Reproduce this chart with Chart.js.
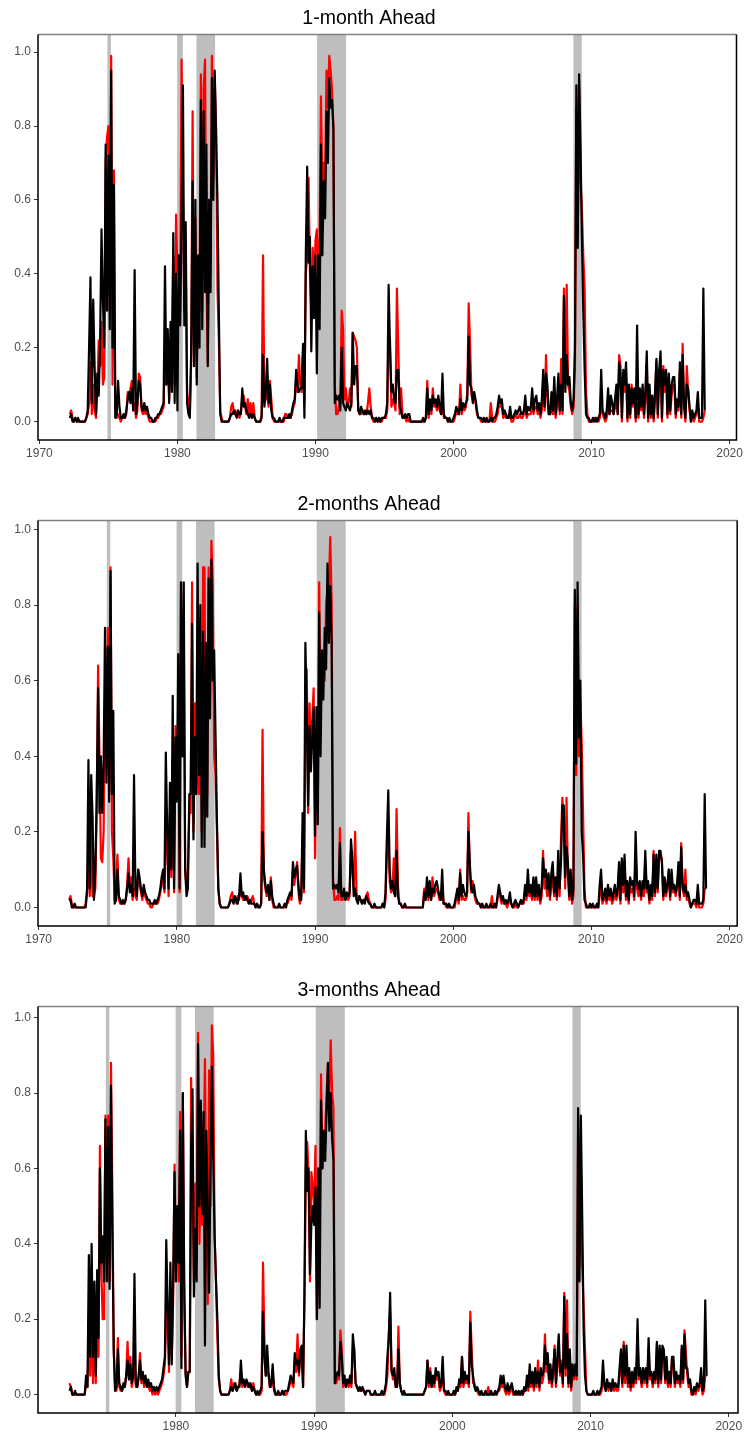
<!DOCTYPE html>
<html>
<head>
<meta charset="utf-8">
<title>Recession probabilities</title>
<script src="https://cdn.jsdelivr.net/npm/chart.js@4.4.1/dist/chart.umd.min.js"></script>
<style>
  html, body { margin: 0; padding: 0; background: #fff; overflow: hidden; }
  canvas { display: block; }
</style>
</head>
<body>
<canvas id="chart-1m" width="745" height="486"></canvas>
<canvas id="chart-2m" width="745" height="486"></canvas>
<canvas id="chart-3m" width="745" height="463"></canvas>
<script>
// Regular time index: one value every 0.1 year, from 1972.2 to 2018.4
var startYear = 1972.2;
var stepYears = 0.1;

// Shaded recession periods (decimal years)
var recessionStart = [1974.93, 1979.98, 1981.38, 1990.12, 2008.69];
var recessionEnd   = [1975.18, 1980.39, 1982.73, 1992.22, 2009.29];

var xTicks = [1970, 1980, 1990, 2000, 2010, 2020];
var yTicks = [0, 0.2, 0.4, 0.6, 0.8, 1.0];

// 1-month ahead, black series (one row per year)
var p1Black = [
  .01,.02,.00,.00,.01,.00,.01,.00, // 1972
  .00,.00,.00,.00,.01,.03,.20,.39,.05,.33, // 1973
  .15,.02,.13,.07,.22,.52,.33,.20,.75,.30, // 1974
  .72,.25,.95,.20,.64,.01,.02,.11,.04,.01, // 1975
  .01,.02,.01,.03,.06,.08,.05,.09,.03,.41, // 1976
  .02,.05,.11,.10,.04,.03,.05,.03,.04,.02, // 1977
  .01,.01,.00,.00,.01,.01,.02,.02,.03,.04, // 1978
  .05,.42,.10,.25,.05,.27,.08,.51,.05,.40, // 1979
  .03,.45,.26,.54,.91,.26,.54,.05,.02,.01, // 1980
  .20,.65,.15,.60,.10,.45,.20,.87,.25,.84, // 1981
  .35,.75,.15,.60,.35,.93,.60,.95,.78,.60, // 1982
  .30,.02,.00,.00,.00,.00,.00,.00,.01,.02, // 1983
  .02,.03,.02,.01,.03,.02,.02,.09,.04,.05, // 1984
  .03,.02,.01,.02,.01,.02,.01,.00,.00,.00, // 1985
  .00,.01,.18,.04,.08,.17,.05,.10,.03,.01, // 1986
  .01,.00,.00,.00,.01,.00,.00,.01,.01,.01, // 1987
  .01,.02,.01,.03,.05,.06,.14,.10,.08,.09, // 1988
  .09,.21,.01,.45,.69,.43,.50,.19,.42,.28, // 1989
  .45,.13,.45,.25,.75,.45,.65,.55,.84,.70, // 1990
  .93,.85,.87,.79,.05,.07,.06,.07,.03,.20, // 1991
  .05,.04,.03,.05,.04,.03,.05,.24,.10,.15, // 1992
  .15,.03,.02,.04,.03,.02,.03,.02,.03,.02, // 1993
  .03,.01,.01,.00,.01,.00,.01,.00,.01,.01, // 1994
  .01,.02,.05,.37,.20,.08,.10,.06,.05,.14, // 1995
  .14,.04,.03,.01,.01,.02,.01,.02,.02,.00, // 1996
  .00,.00,.00,.00,.00,.00,.00,.00,.01,.00, // 1997
  .01,.09,.02,.06,.03,.07,.05,.06,.04,.07, // 1998
  .04,.02,.13,.02,.01,.01,.00,.01,.00,.00, // 1999
  .01,.02,.04,.03,.02,.06,.03,.05,.04,.05, // 2000
  .06,.23,.10,.09,.05,.08,.06,.03,.01,.01, // 2001
  .01,.00,.01,.00,.01,.00,.00,.01,.00,.01, // 2002
  .01,.02,.04,.07,.05,.06,.02,.03,.02,.01, // 2003
  .01,.04,.01,.01,.02,.03,.02,.03,.04,.02, // 2004
  .02,.03,.07,.02,.04,.03,.04,.09,.03,.06, // 2005
  .07,.03,.05,.02,.06,.14,.04,.13,.10,.02, // 2006
  .02,.08,.03,.12,.02,.06,.13,.03,.10,.03, // 2007
  .34,.08,.18,.10,.12,.05,.03,.06,.20,.91, // 2008
  .47,.94,.75,.50,.30,.14,.02,.01,.01,.00, // 2009
  .00,.01,.00,.01,.00,.01,.02,.14,.03,.02, // 2010
  .01,.03,.09,.02,.07,.05,.02,.06,.10,.02, // 2011
  .16,.12,.01,.14,.10,.16,.01,.10,.02,.09, // 2012
  .05,.09,.01,.26,.02,.09,.04,.10,.02,.08, // 2013
  .19,.01,.10,.02,.07,.01,.08,.17,.02,.14, // 2014
  .19,.01,.14,.10,.14,.02,.13,.03,.10,.12, // 2015
  .12,.02,.06,.04,.16,.02,.18,.05,.01,.10, // 2016
  .09,.04,.00,.03,.01,.02,.03,.08,.01,.01, // 2017
  .01,.36,.03,null,null // 2018
];

// 1-month ahead, red series
var p1Red = [
  .02,.03,.01,.00,.01,.00,.00,.00, // 1972
  .00,.00,.00,.00,.01,.02,.05,.16,.02,.10, // 1973
  .03,.01,.08,.22,.15,.27,.10,.12,.70,.77, // 1974
  .80,.30,.99,.10,.68,.03,.01,.02,.01,.00, // 1975
  .01,.01,.01,.02,.08,.06,.09,.11,.03,.05, // 1976
  .01,.03,.13,.12,.03,.02,.03,.02,.03,.01, // 1977
  .00,.00,.00,.00,.00,.01,.01,.02,.02,.03, // 1978
  .04,.20,.10,.20,.06,.18,.22,.45,.10,.56, // 1979
  .40,.45,.30,.98,.60,.30,.45,.08,.05,.02, // 1980
  .17,.84,.20,.55,.12,.44,.30,.94,.30,.90, // 1981
  .98,.40,.16,.60,.40,.99,.65,.93,.80,.36, // 1982
  .22,.03,.01,.00,.00,.00,.00,.00,.01,.04, // 1983
  .05,.02,.03,.02,.02,.01,.03,.06,.07,.04, // 1984
  .02,.06,.02,.05,.01,.05,.01,.00,.00,.00, // 1985
  .00,.02,.45,.05,.06,.12,.04,.11,.06,.01, // 1986
  .00,.00,.00,.00,.00,.00,.00,.00,.02,.02, // 1987
  .01,.01,.01,.02,.04,.05,.12,.08,.18,.10, // 1988
  .08,.19,.05,.40,.45,.66,.40,.30,.47,.35, // 1989
  .49,.52,.35,.50,.88,.60,.70,.65,.95,.85, // 1990
  .99,.95,.90,.80,.10,.02,.02,.04,.05,.30, // 1991
  .25,.06,.09,.04,.05,.09,.04,.24,.23,.22, // 1992
  .20,.03,.02,.02,.03,.02,.02,.02,.05,.09, // 1993
  .04,.01,.00,.00,.01,.00,.00,.00,.00,.01, // 1994
  .01,.01,.03,.25,.22,.04,.06,.05,.03,.36, // 1995
  .20,.02,.09,.02,.01,.01,.00,.01,.00,.00, // 1996
  .00,.00,.00,.00,.00,.00,.00,.00,.00,.00, // 1997
  .01,.11,.01,.05,.02,.09,.04,.05,.03,.05, // 1998
  .03,.02,.05,.01,.01,.01,.00,.00,.00,.00, // 1999
  .00,.01,.03,.02,.02,.10,.02,.04,.03,.04, // 2000
  .08,.32,.21,.07,.06,.07,.05,.02,.01,.01, // 2001
  .00,.00,.00,.00,.00,.00,.00,.05,.01,.00, // 2002
  .00,.01,.02,.05,.04,.04,.01,.02,.01,.01, // 2003
  .01,.02,.00,.00,.01,.02,.01,.01,.02,.01, // 2004
  .01,.02,.04,.01,.02,.02,.02,.05,.02,.04, // 2005
  .04,.02,.03,.01,.03,.12,.03,.18,.06,.02, // 2006
  .02,.04,.02,.08,.01,.04,.10,.02,.17,.02, // 2007
  .36,.10,.37,.10,.08,.04,.02,.04,.15,.85, // 2008
  .50,.90,.65,.58,.45,.36,.08,.02,.00,.00, // 2009
  .00,.00,.01,.00,.01,.00,.01,.05,.02,.01, // 2010
  .00,.01,.04,.02,.03,.03,.02,.04,.05,.02, // 2011
  .18,.15,.00,.13,.08,.14,.00,.08,.01,.10, // 2012
  .04,.08,.00,.05,.01,.07,.03,.08,.01,.06, // 2013
  .16,.00,.08,.01,.05,.00,.06,.16,.01,.12, // 2014
  .15,.00,.15,.08,.13,.01,.12,.02,.07,.10, // 2015
  .10,.01,.05,.03,.14,.01,.21,.04,.00,.15, // 2016
  .08,.03,.00,.02,.00,.01,.02,.04,.00,.00, // 2017
  .00,.01,.03,null,null // 2018
];

// 2-months ahead, black series
var p2Black = [
  .02,.02,.00,.00,.01,.00,.00,.00, // 1972
  .00,.00,.00,.00,.00,.04,.39,.05,.35,.24, // 1973
  .02,.10,.29,.58,.25,.40,.25,.38,.74,.33, // 1974
  .69,.28,.89,.30,.52,.01,.02,.10,.03,.02, // 1975
  .01,.02,.01,.02,.05,.09,.04,.06,.03,.35, // 1976
  .05,.03,.10,.08,.05,.03,.06,.04,.03,.02, // 1977
  .02,.01,.01,.01,.02,.01,.02,.03,.05,.08, // 1978
  .10,.05,.41,.21,.05,.33,.10,.56,.05,.45, // 1979
  .28,.67,.05,.86,.40,.86,.10,.03,.05,.30, // 1980
  .30,.75,.18,.45,.30,.91,.35,.80,.16,.73, // 1981
  .16,.70,.24,.87,.50,.92,.60,.68,.45,.23, // 1982
  .05,.01,.00,.00,.00,.00,.00,.00,.01,.02, // 1983
  .02,.01,.03,.02,.01,.03,.09,.03,.04,.02, // 1984
  .03,.02,.01,.02,.01,.01,.01,.00,.01,.00, // 1985
  .00,.01,.20,.10,.06,.04,.06,.02,.07,.03, // 1986
  .01,.00,.00,.00,.01,.00,.00,.00,.01,.00, // 1987
  .02,.03,.04,.03,.12,.08,.10,.11,.06,.02, // 1988
  .02,.25,.05,.70,.52,.27,.48,.36,.45,.53, // 1989
  .19,.53,.22,.78,.40,.68,.55,.74,.63,.91, // 1990
  .70,.85,.70,.05,.06,.05,.06,.04,.17,.03, // 1991
  .03,.05,.02,.04,.03,.04,.18,.13,.03,.05, // 1992
  .02,.01,.03,.02,.01,.02,.01,.03,.02,.01, // 1993
  .01,.00,.00,.01,.00,.00,.00,.00,.00,.01, // 1994
  .00,.04,.19,.31,.10,.05,.07,.04,.03,.15, // 1995
  .03,.01,.01,.00,.00,.01,.00,.00,.00,.00, // 1996
  .00,.00,.00,.00,.00,.00,.00,.00,.00,.04, // 1997
  .02,.08,.03,.07,.02,.05,.04,.06,.07,.05, // 1998
  .03,.02,.10,.01,.01,.01,.00,.01,.00,.00, // 1999
  .00,.01,.03,.05,.02,.09,.03,.06,.04,.03, // 2000
  .04,.20,.12,.05,.04,.06,.03,.02,.01,.01, // 2001
  .00,.01,.00,.00,.01,.00,.00,.01,.00,.00, // 2002
  .01,.00,.03,.06,.04,.02,.03,.01,.02,.01, // 2003
  .02,.04,.01,.00,.01,.02,.01,.00,.01,.02, // 2004
  .01,.02,.06,.03,.10,.04,.06,.03,.08,.03, // 2005
  .08,.03,.06,.02,.05,.13,.08,.10,.05,.09, // 2006
  .03,.09,.12,.04,.08,.03,.15,.05,.12,.27, // 2007
  .27,.08,.16,.12,.03,.10,.02,.05,.84,.38, // 2008
  .86,.45,.60,.20,.14,.02,.01,.00,.00,.01, // 2009
  .00,.01,.00,.00,.01,.00,.06,.10,.02,.03, // 2010
  .05,.02,.06,.03,.05,.02,.04,.06,.03,.05, // 2011
  .12,.02,.13,.06,.14,.03,.07,.02,.08,.06, // 2012
  .07,.03,.20,.07,.05,.07,.03,.07,.05,.15, // 2013
  .05,.07,.02,.06,.03,.14,.04,.14,.05,.15, // 2014
  .15,.12,.03,.08,.04,.06,.10,.03,.10,.05, // 2015
  .06,.04,.06,.12,.03,.16,.06,.04,.06,.03, // 2016
  .04,.02,.00,.01,.02,.02,.01,.06,.01,.01, // 2017
  .01,.02,.30,.05,null // 2018
];

// 2-months ahead, red series
var p2Red = [
  .02,.03,.01,.00,.00,.00,.00,.00, // 1972
  .00,.00,.00,.00,.01,.05,.10,.03,.19,.03, // 1973
  .03,.05,.27,.64,.40,.13,.12,.20,.55,.40, // 1974
  .74,.30,.90,.20,.13,.02,.05,.14,.02,.01, // 1975
  .01,.01,.01,.02,.06,.13,.05,.08,.02,.05, // 1976
  .03,.02,.10,.06,.04,.02,.05,.03,.02,.01, // 1977
  .01,.00,.00,.01,.01,.01,.01,.02,.04,.06, // 1978
  .08,.04,.20,.17,.03,.25,.08,.40,.04,.48, // 1979
  .30,.52,.04,.86,.40,.70,.10,.05,.10,.25, // 1980
  .25,.86,.20,.54,.30,.45,.30,.70,.20,.90, // 1981
  .90,.24,.30,.90,.55,.97,.85,.40,.35,.20, // 1982
  .05,.01,.00,.00,.00,.00,.00,.00,.01,.03, // 1983
  .04,.02,.02,.01,.03,.02,.05,.03,.02,.03, // 1984
  .02,.03,.02,.01,.02,.03,.01,.00,.01,.00, // 1985
  .00,.01,.47,.08,.05,.03,.04,.02,.08,.02, // 1986
  .00,.00,.00,.00,.00,.00,.00,.00,.00,.01, // 1987
  .01,.02,.03,.02,.10,.06,.09,.12,.04,.01, // 1988
  .03,.20,.04,.50,.63,.25,.54,.40,.50,.58, // 1989
  .13,.40,.25,.86,.50,.66,.60,.60,.80,.85, // 1990
  .85,.98,.81,.08,.02,.02,.03,.02,.21,.02, // 1991
  .02,.04,.02,.03,.02,.03,.15,.10,.05,.20, // 1992
  .04,.02,.03,.02,.01,.02,.02,.03,.04,.02, // 1993
  .01,.00,.00,.00,.00,.00,.00,.00,.00,.01, // 1994
  .00,.02,.15,.20,.07,.04,.05,.13,.03,.26, // 1995
  .06,.01,.01,.00,.00,.00,.00,.00,.00,.00, // 1996
  .00,.00,.00,.00,.00,.00,.00,.00,.00,.05, // 1997
  .02,.06,.02,.05,.02,.08,.03,.04,.05,.04, // 1998
  .02,.02,.06,.01,.01,.00,.00,.00,.00,.00, // 1999
  .00,.00,.02,.03,.01,.10,.02,.03,.02,.02, // 2000
  .03,.25,.10,.04,.07,.04,.02,.01,.01,.01, // 2001
  .00,.00,.00,.00,.00,.00,.00,.00,.03,.00, // 2002
  .00,.00,.02,.04,.03,.01,.02,.01,.01,.00, // 2003
  .01,.02,.01,.00,.00,.01,.00,.00,.01,.01, // 2004
  .01,.01,.04,.02,.06,.03,.04,.02,.05,.02, // 2005
  .05,.02,.04,.01,.03,.15,.05,.07,.03,.06, // 2006
  .02,.06,.08,.03,.05,.02,.10,.03,.18,.29, // 2007
  .20,.05,.29,.08,.02,.07,.01,.03,.80,.35, // 2008
  .80,.40,.55,.43,.24,.05,.00,.00,.00,.00, // 2009
  .00,.00,.00,.00,.00,.00,.03,.07,.01,.02, // 2010
  .03,.01,.04,.02,.03,.01,.02,.04,.02,.03, // 2011
  .10,.01,.12,.04,.12,.02,.05,.01,.06,.04, // 2012
  .05,.02,.15,.05,.03,.05,.02,.05,.03,.12, // 2013
  .04,.05,.01,.04,.02,.15,.03,.12,.04,.13, // 2014
  .13,.13,.02,.06,.03,.05,.10,.02,.08,.04, // 2015
  .05,.03,.05,.10,.02,.17,.05,.03,.10,.02, // 2016
  .03,.01,.00,.01,.01,.01,.00,.04,.00,.00, // 2017
  .00,.01,.05,.05,null // 2018
];

// 3-months ahead, black series
var p3Black = [
  null,.01,.02,.00,.00,.01,.00,.00, // 1972
  .00,.00,.00,.00,.00,.05,.02,.37,.10,.40, // 1973
  .10,.30,.05,.33,.15,.60,.35,.42,.30,.73, // 1974
  .30,.71,.28,.82,.43,.12,.01,.02,.12,.03, // 1975
  .02,.01,.03,.02,.05,.09,.04,.08,.03,.05, // 1976
  .32,.03,.02,.05,.09,.04,.06,.03,.05,.02, // 1977
  .04,.02,.03,.01,.02,.01,.02,.01,.02,.03, // 1978
  .04,.07,.10,.41,.24,.08,.35,.08,.30,.59, // 1979
  .30,.50,.35,.70,.07,.80,.30,.05,.02,.06, // 1980
  .06,.66,.81,.26,.44,.30,.93,.50,.78,.48, // 1981
  .75,.13,.70,.50,.27,.60,.87,.62,.42,.30, // 1982
  .20,.05,.01,.00,.00,.00,.00,.00,.00,.01, // 1983
  .02,.01,.02,.03,.01,.02,.02,.09,.03,.04, // 1984
  .02,.04,.03,.02,.03,.01,.02,.01,.00,.01, // 1985
  .00,.01,.02,.22,.10,.05,.13,.06,.02,.03, // 1986
  .08,.02,.00,.00,.01,.00,.00,.01,.00,.01, // 1987
  .01,.01,.03,.05,.04,.03,.11,.08,.09,.06, // 1988
  .12,.13,.02,.27,.70,.54,.60,.32,.45,.50, // 1989
  .45,.55,.20,.60,.23,.78,.60,.70,.62,.75, // 1990
  .88,.70,.80,.68,.62,.03,.05,.06,.05,.14, // 1991
  .10,.03,.05,.02,.04,.03,.05,.03,.16,.12, // 1992
  .03,.02,.01,.02,.01,.02,.01,.00,.01,.01, // 1993
  .01,.00,.00,.00,.01,.00,.00,.00,.00,.01, // 1994
  .00,.01,.03,.10,.15,.27,.06,.05,.07,.02, // 1995
  .02,.12,.03,.01,.00,.01,.00,.00,.00,.00, // 1996
  .00,.00,.00,.00,.00,.00,.00,.00,.00,.00, // 1997
  .01,.02,.09,.03,.06,.02,.05,.03,.07,.05, // 1998
  .06,.02,.03,.10,.01,.01,.00,.01,.00,.00, // 1999
  .00,.01,.00,.02,.01,.04,.03,.10,.03,.06, // 2000
  .04,.05,.03,.19,.08,.05,.02,.01,.02,.01, // 2001
  .00,.01,.00,.00,.01,.00,.00,.00,.01,.00, // 2002
  .00,.01,.00,.01,.02,.05,.03,.05,.02,.01, // 2003
  .03,.01,.02,.03,.01,.00,.01,.00,.01,.00, // 2004
  .01,.00,.02,.01,.05,.02,.08,.03,.06,.02, // 2005
  .07,.03,.06,.02,.07,.05,.06,.13,.08,.11, // 2006
  .04,.08,.03,.07,.12,.03,.10,.16,.06,.08, // 2007
  .03,.26,.07,.16,.03,.12,.02,.08,.05,.08, // 2008
  .05,.76,.30,.74,.47,.17,.05,.01,.00,.00, // 2009
  .00,.00,.01,.00,.00,.01,.00,.01,.02,.09, // 2010
  .03,.01,.04,.02,.03,.01,.04,.02,.03,.02, // 2011
  .02,.07,.12,.03,.13,.05,.13,.03,.07,.02, // 2012
  .06,.03,.07,.04,.20,.05,.07,.03,.07,.04, // 2013
  .07,.03,.15,.05,.06,.03,.06,.04,.14,.03, // 2014
  .13,.04,.13,.12,.04,.10,.03,.06,.03,.10, // 2015
  .10,.03,.06,.04,.05,.03,.13,.04,.16,.07, // 2016
  .07,.03,.04,.01,.00,.02,.01,.03,.02,.03, // 2017
  .07,.01,.02,.25,.05 // 2018
];

// 3-months ahead, red series
var p3Red = [
  null,.03,.02,.00,.00,.00,.00,.00, // 1972
  .00,.00,.00,.00,.00,.03,.02,.20,.05,.22, // 1973
  .03,.20,.03,.24,.10,.66,.33,.20,.20,.74, // 1974
  .40,.74,.30,.88,.54,.12,.01,.01,.15,.02, // 1975
  .01,.01,.02,.02,.05,.14,.04,.10,.02,.04, // 1976
  .10,.02,.02,.04,.11,.03,.05,.02,.04,.02, // 1977
  .03,.01,.02,.00,.01,.00,.01,.00,.01,.02, // 1978
  .03,.05,.08,.20,.24,.06,.30,.10,.25,.61, // 1979
  .35,.47,.30,.75,.10,.80,.25,.06,.02,.06, // 1980
  .06,.84,.55,.30,.56,.35,.96,.40,.60,.45, // 1981
  .60,.89,.50,.24,.86,.50,.98,.90,.42,.30, // 1982
  .15,.04,.01,.00,.00,.00,.00,.00,.00,.01, // 1983
  .04,.01,.03,.02,.01,.02,.03,.06,.02,.03, // 1984
  .03,.03,.02,.03,.02,.01,.03,.01,.00,.00, // 1985
  .00,.00,.01,.35,.15,.05,.06,.05,.02,.02, // 1986
  .06,.01,.00,.00,.00,.00,.00,.01,.00,.00, // 1987
  .00,.01,.02,.04,.03,.02,.10,.06,.16,.05, // 1988
  .10,.10,.02,.25,.60,.67,.58,.30,.59,.55, // 1989
  .50,.66,.20,.40,.40,.85,.60,.70,.70,.80, // 1990
  .88,.80,.94,.80,.76,.03,.03,.05,.04,.17, // 1991
  .12,.02,.04,.02,.03,.02,.04,.02,.12,.12, // 1992
  .03,.02,.01,.01,.01,.01,.01,.00,.01,.01, // 1993
  .01,.00,.00,.00,.00,.00,.00,.00,.00,.00, // 1994
  .00,.00,.02,.05,.16,.22,.07,.04,.05,.02, // 1995
  .02,.18,.03,.01,.00,.00,.00,.00,.00,.00, // 1996
  .00,.00,.00,.00,.00,.00,.00,.00,.00,.00, // 1997
  .01,.02,.09,.02,.07,.02,.04,.02,.06,.04, // 1998
  .04,.01,.02,.06,.01,.00,.00,.00,.00,.00, // 1999
  .00,.00,.00,.01,.01,.03,.02,.10,.02,.04, // 2000
  .03,.04,.02,.22,.12,.03,.03,.01,.01,.00, // 2001
  .00,.00,.00,.00,.00,.00,.02,.00,.00,.00, // 2002
  .00,.00,.00,.01,.01,.03,.02,.03,.01,.00, // 2003
  .02,.00,.01,.02,.00,.00,.00,.00,.00,.00, // 2004
  .00,.00,.01,.01,.03,.01,.05,.02,.04,.01, // 2005
  .05,.02,.09,.01,.05,.03,.05,.16,.06,.08, // 2006
  .03,.06,.02,.05,.13,.02,.08,.12,.05,.09, // 2007
  .02,.27,.05,.25,.02,.10,.01,.06,.04,.06, // 2008
  .04,.70,.34,.60,.34,.23,.12,.01,.00,.00, // 2009
  .00,.00,.00,.00,.00,.00,.00,.00,.01,.05, // 2010
  .02,.01,.03,.01,.02,.01,.03,.01,.02,.01, // 2011
  .01,.05,.11,.02,.14,.03,.10,.02,.05,.01, // 2012
  .04,.02,.05,.03,.16,.04,.05,.02,.05,.03, // 2013
  .05,.02,.12,.04,.05,.02,.05,.03,.13,.02, // 2014
  .12,.03,.12,.11,.03,.08,.02,.05,.02,.10, // 2015
  .08,.02,.05,.03,.04,.02,.12,.03,.17,.11, // 2016
  .05,.02,.03,.00,.00,.01,.00,.02,.01,.02, // 2017
  .05,.00,.01,.05,.05 // 2018
];

(function() {
    'use strict';

    var FONT = "'Liberation Sans', Arial, Helvetica, sans-serif";
    var nPoints = 463;

    [p1Black, p1Red, p2Black, p2Red, p3Black, p3Red].forEach(function(arr, k) {
        if (arr.length !== nPoints) {
            throw new Error('series ' + k + ' has ' + arr.length + ' values, expected ' + nPoints);
        }
    });

    function toPoints(values) {
        return values.map(function(v, i) {
            return { x: Math.round((startYear + i * stepYears) * 100) / 100, y: v };
        });
    }

    // Grey recession bands behind the lines
    var recessionPlugin = {
        id: 'recessions',
        beforeDatasetsDraw: function(chart) {
            var ctx = chart.ctx, area = chart.chartArea, xs = chart.scales.x;
            ctx.save();
            ctx.beginPath();
            ctx.rect(area.left, area.top, area.right - area.left, area.bottom - area.top);
            ctx.clip();
            ctx.fillStyle = '#BEBEBE';
            for (var i = 0; i < recessionStart.length; i++) {
                var x0 = xs.getPixelForValue(recessionStart[i]);
                var x1 = xs.getPixelForValue(recessionEnd[i]);
                ctx.fillRect(x0, area.top, x1 - x0, area.bottom - area.top);
            }
            ctx.restore();
        }
    };

    // Panel frame drawn over the data
    var framePlugin = {
        id: 'frame',
        afterDraw: function(chart) {
            var ctx = chart.ctx, a = chart.chartArea;
            ctx.save();
            ctx.lineWidth = 1.5;
            ctx.strokeStyle = '#808080';
            ctx.beginPath();
            ctx.moveTo(a.left, a.top);
            ctx.lineTo(a.right, a.top);
            ctx.stroke();
            ctx.strokeStyle = '#000';
            ctx.beginPath();
            ctx.moveTo(a.right, a.top);
            ctx.lineTo(a.right, a.bottom);
            ctx.lineTo(a.left, a.bottom);
            ctx.lineTo(a.left, a.top);
            ctx.stroke();
            ctx.restore();
        }
    };

    function makePanel(id, title, black, red, xMin, xMax, yMin, yMax, bottomPad) {
        var ctx = document.getElementById(id);
        return new Chart(ctx, {
            type: 'line',
            data: {
                datasets: [{
                    label: 'black',
                    data: toPoints(black),
                    borderColor: '#000000',
                    borderWidth: 2.2,
                    order: 1
                }, {
                    label: 'red',
                    data: toPoints(red),
                    borderColor: '#FF0000',
                    borderWidth: 2.2,
                    order: 2
                }]
            },
            options: {
                responsive: false,
                animation: false,
                devicePixelRatio: 1,
                layout: { padding: { left: 0, right: 7, top: 0, bottom: bottomPad } },
                elements: {
                    point: { radius: 0, hoverRadius: 0 },
                    line: { tension: 0, borderJoinStyle: 'round', fill: false }
                },
                plugins: {
                    legend: { display: false },
                    tooltip: { enabled: false },
                    title: {
                        display: true,
                        text: title,
                        color: '#000',
                        font: { family: FONT, size: 19.5, weight: 'normal' },
                        padding: { top: 7, bottom: 4 }
                    }
                },
                scales: {
                    x: {
                        type: 'linear',
                        min: xMin,
                        max: xMax,
                        afterBuildTicks: function(scale) {
                            scale.ticks = xTicks.filter(function(v) {
                                return v >= scale.min && v <= scale.max;
                            }).map(function(v) { return { value: v }; });
                        },
                        afterFit: function(scale) { scale.height = 22; },
                        ticks: {
                            color: '#4D4D4D',
                            font: { family: FONT, size: 12 },
                            padding: 2,
                            maxRotation: 0,
                            callback: function(v) { return String(v); }
                        },
                        grid: { drawOnChartArea: false, drawTicks: true, tickLength: 4, color: '#333333' },
                        border: { display: false }
                    },
                    y: {
                        min: yMin,
                        max: yMax,
                        afterBuildTicks: function(scale) {
                            scale.ticks = yTicks.map(function(v) { return { value: v }; });
                        },
                        afterFit: function(scale) { scale.width = 38; },
                        ticks: {
                            color: '#4D4D4D',
                            font: { family: FONT, size: 12 },
                            padding: 3,
                            callback: function(v) { return v.toFixed(1); }
                        },
                        grid: { drawOnChartArea: false, drawTicks: true, tickLength: 4, color: '#333333' },
                        border: { display: false }
                    }
                }
            },
            plugins: [recessionPlugin, framePlugin]
        });
    }

    makePanel('chart-1m', '1-month Ahead', p1Black, p1Red, 1969.9, 2020.5, -0.05, 1.048, 24);
    makePanel('chart-2m', '2-months Ahead', p2Black, p2Red, 1969.95, 2020.55, -0.049, 1.024, 24);
    makePanel('chart-3m', '3-months Ahead', p3Black, p3Red, 1970.02, 2020.67, -0.049, 1.03, 0);
})();
</script>
</body>
</html>
